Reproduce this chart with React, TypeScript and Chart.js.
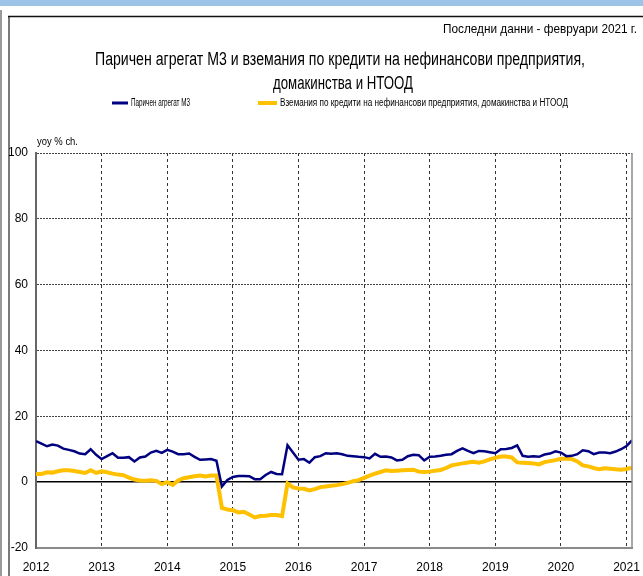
import React, { useEffect, useRef } from "react";
import { Chart, registerables } from "chart.js";

Chart.register(...registerables);

// ---- data ----
const yearLabels = ["2012", "2013", "2014", "2015", "2016", "2017", "2018", "2019", "2020", "2021"];

// Паричен агрегат М3, yoy % ch., Jan 2012 – Feb 2021
const m3Growth = [
  12.5, 11.7, 10.9, 11.4, 11.1, 10.2, 9.8, 9.4, 8.7, 8.5, 10.0, 8.3,
  7.0, 7.9, 8.8, 7.4, 7.4, 7.6, 6.3, 7.5, 7.8, 9.0, 9.5, 8.9,
  9.8, 9.3, 8.5, 8.5, 8.7, 7.7, 6.8, 6.9, 7.0, 6.5, -1.3, 0.7,
  1.6, 1.9, 1.9, 1.8, 0.9, 0.9, 2.2, 3.1, 2.5, 2.4, 11.2, 9.0,
  6.8, 7.0, 5.9, 7.6, 7.9, 8.8, 8.6, 8.8, 8.5, 8.0, 7.9, 7.7,
  7.6, 7.2, 8.6, 7.7, 7.8, 7.5, 6.6, 6.8, 7.9, 8.3, 8.2, 6.6,
  7.7, 7.8, 8.0, 8.3, 8.5, 9.5, 10.3, 9.5, 8.8, 9.5, 9.4, 9.1,
  8.8, 10.0, 10.1, 10.4, 11.2, 8.0, 7.7, 7.9, 7.7, 8.4, 8.7, 9.4,
  9.0, 7.9, 8.0, 8.5, 9.7, 9.4, 8.5, 9.0, 9.0, 8.8, 9.3, 10.0,
  11.0, 12.7,
];

// Вземания по кредити на нефинансови предприятия, домакинства и НТООД
const loanGrowth = [
  2.5, 2.5, 3.0, 2.9, 3.3, 3.6, 3.6, 3.4, 3.1, 2.8, 3.6, 2.8,
  3.3, 3.0, 2.6, 2.3, 2.1, 1.4, 0.8, 0.5, 0.4, 0.6, 0.4, -0.6,
  0.0, -0.8, 0.5, 1.2, 1.5, 1.8, 2.0, 1.7, 2.0, 2.0, -7.8, -8.3,
  -8.5, -9.2, -9.0, -9.8, -10.7, -10.3, -10.2, -10.0, -10.0, -10.3, -0.4, -1.6,
  -1.9, -2.0, -2.5, -2.1, -1.5, -1.3, -1.1, -0.9, -0.6, -0.2, 0.3, 0.6,
  1.3, 2.0, 2.6, 3.1, 3.6, 3.4, 3.5, 3.6, 3.7, 3.8, 3.2, 3.1,
  3.2, 3.5, 3.7, 4.3, 5.1, 5.4, 5.7, 6.0, 6.2, 5.9, 6.3, 6.9,
  7.4, 7.8, 7.8, 7.5, 6.0, 5.9, 5.8, 5.7, 5.4, 6.1, 6.4, 6.7,
  7.1, 7.1, 7.0, 6.3, 5.1, 4.8, 4.3, 3.9, 4.2, 4.1, 3.9, 3.8,
  4.0, 4.4,
];

const yTicks = [-20, 0, 20, 40, 60, 80, 100];

const titleLines = [
  "Паричен агрегат М3 и вземания по кредити на нефинансови предприятия,",
  "домакинства и НТООД",
];
const seriesNames = [
  "Паричен агрегат М3",
  "Вземания по кредити на нефинансови предприятия, домакинства и НТООД",
];
const noteText = "Последни данни - февруари 2021 г.";
const unitText = "yoy % ch.";

const FONT = '"Liberation Sans", Arial, sans-serif';

// draw text horizontally condensed into a given width (reference uses a narrow face)
function fitText(ctx: CanvasRenderingContext2D, text: string, left: number, y: number, width: number, size: number) {
  ctx.font = `${size}px ${FONT}`;
  const w = ctx.measureText(text).width || 1;
  ctx.save();
  ctx.translate(left, y);
  ctx.scale(width / w, 1);
  ctx.textAlign = "left";
  ctx.textBaseline = "middle";
  ctx.fillText(text, 0, 0);
  ctx.restore();
}

const decorPlugin = {
  id: "decor",
  beforeDraw(chart: any) {
    const { ctx, width, height } = chart;
    ctx.save();
    ctx.fillStyle = "#ffffff";
    ctx.fillRect(0, 0, width, height);
    ctx.fillStyle = "#9dc3e6";
    ctx.fillRect(0, 0, width, 6);
    ctx.strokeStyle = "#9a9a9a";
    ctx.lineWidth = 2;
    ctx.beginPath();
    ctx.moveTo(1, 10);
    ctx.lineTo(1, height);
    ctx.stroke();
    ctx.strokeStyle = "#7a7a7a";
    ctx.lineWidth = 2;
    ctx.beginPath();
    ctx.moveTo(9, 17);
    ctx.lineTo(9, height);
    ctx.stroke();
    ctx.strokeStyle = "#111111";
    ctx.lineWidth = 1.5;
    ctx.beginPath();
    ctx.moveTo(8, 16.5);
    ctx.lineTo(width, 16.5);
    ctx.stroke();
    ctx.restore();
  },
  afterDraw(chart: any) {
    const { ctx, chartArea } = chart;
    ctx.save();
    ctx.strokeStyle = "#8a8a8a";
    ctx.lineWidth = 1.5;
    ctx.beginPath();
    ctx.moveTo(chartArea.right, chartArea.top);
    ctx.lineTo(chartArea.right, chartArea.bottom);
    ctx.stroke();

    ctx.fillStyle = "#000";
    fitText(ctx, noteText, 443, 29, 194, 13);
    fitText(ctx, titleLines[0], 95, 60, 490, 18);
    fitText(ctx, titleLines[1], 273, 84, 140, 18);
    fitText(ctx, unitText, 37, 142, 41, 11);

    const ds = chart.data.datasets;
    const legendX = [112, 258];
    const legendLen = [16, 19];
    const legendW = [59, 288];
    ds.forEach((d: any, i: number) => {
      const x = legendX[i];
      const y = 103;
      ctx.strokeStyle = d.borderColor;
      ctx.lineWidth = i === 0 ? 3 : 4;
      ctx.beginPath();
      ctx.moveTo(x, y);
      ctx.lineTo(x + legendLen[i], y);
      ctx.stroke();
      ctx.fillStyle = "#000";
      fitText(ctx, d.label, x + legendLen[i] + 3, y, legendW[i], 10);
    });
    ctx.restore();
  },
};

export default function App() {
  const ref = useRef<HTMLCanvasElement | null>(null);

  useEffect(() => {
    document.body.style.margin = "0";
    const canvas = ref.current;
    if (!canvas) return;
    const toPoints = (arr: number[]) => arr.map((v, i) => ({ x: i, y: v }));
    const chart = new Chart(canvas, {
      type: "line",
      data: {
        datasets: [
          {
            label: seriesNames[0],
            data: toPoints(m3Growth),
            borderColor: "#000080",
            backgroundColor: "#000080",
            borderWidth: 2.5,
            pointRadius: 0,
            tension: 0,
          },
          {
            label: seriesNames[1],
            data: toPoints(loanGrowth),
            borderColor: "#ffc000",
            backgroundColor: "#ffc000",
            borderWidth: 4,
            pointRadius: 0,
            tension: 0,
          },
        ],
      },
      options: {
        animation: false,
        responsive: false,
        maintainAspectRatio: false,
        layout: { padding: { left: 0, right: 11, top: 153, bottom: 0 } },
        plugins: {
          legend: { display: false },
          tooltip: { enabled: false },
          title: { display: false },
        },
        scales: {
          x: {
            type: "linear",
            min: 0,
            max: 109,
            afterBuildTicks: (s: any) => {
              s.ticks = yearLabels.map((_, i) => ({ value: i * 12 }));
            },
            afterFit: (s: any) => {
              s.height = 28;
              s.paddingLeft = 0;
              s.paddingRight = 0;
            },
            ticks: {
              autoSkip: false,
              maxRotation: 0,
              padding: 12,
              color: "#000",
              font: { family: FONT, size: 12 },
              callback: (v: any) => yearLabels[Math.round(Number(v) / 12)] ?? "",
            },
            grid: { color: "#333", lineWidth: 1, drawTicks: false },
            border: { display: true, color: "#8a8a8a", width: 2, dash: [3, 3] },
          },
          y: {
            min: -20,
            max: 100,
            afterBuildTicks: (s: any) => {
              s.ticks = yTicks.map((v) => ({ value: v }));
            },
            afterFit: (s: any) => {
              s.width = 36;
              s.paddingTop = 0;
              s.paddingBottom = 0;
            },
            ticks: {
              padding: 8,
              color: "#000",
              font: { family: FONT, size: 12 },
              callback: (v: any) => String(v),
            },
            grid: {
              drawTicks: false,
              color: (c: any) => (c.tick && c.tick.value === 0 ? "#000" : "#444"),
              lineWidth: (c: any) => (c.tick && c.tick.value === 0 ? 1.5 : 1),
            },
            border: {
              display: true,
              color: "#666",
              width: 2,
              dash: (c: any) => (c.tick && c.tick.value === 0 ? [] : [2, 1]),
            },
          },
        },
      },
      plugins: [decorPlugin],
    } as any);
    return () => chart.destroy();
  }, []);

  return (
    <div style={{ width: 643, height: 576, position: "relative" }}>
      <canvas ref={ref} width={643} height={576} style={{ display: "block" }} />
    </div>
  );
}
